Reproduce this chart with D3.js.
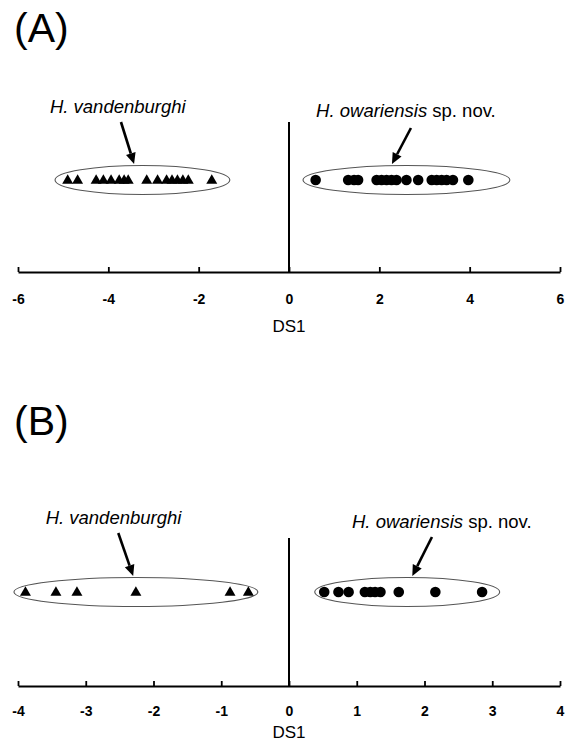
<!DOCTYPE html>
<html><head><meta charset="utf-8">
<script src="https://cdn.jsdelivr.net/npm/d3@7"></script>
<style>body{margin:0;background:#fff}svg{display:block}</style>
</head><body>
<svg id="c" width="571" height="742"></svg>
<script>
// Panel A (DS1 of discriminant analysis)
const ticksA = [-6, -4, -2, 0, 2, 4, 6];
const vandenA = [-4.90, -4.68, -4.27, -4.11, -3.94, -3.76, -3.65, -3.56, -3.15, -2.91, -2.71, -2.59, -2.47, -2.35, -2.23, -1.71];
const owariA = [0.59, 1.31, 1.44, 1.53, 1.94, 2.05, 2.16, 2.27, 2.38, 2.60, 2.86, 3.16, 3.27, 3.38, 3.49, 3.63, 3.97];
// Panel B
const ticksB = [-4, -3, -2, -1, 0, 1, 2, 3, 4];
const vandenB = [-3.89, -3.44, -3.13, -2.26, -0.87, -0.60];
const owariB = [0.52, 0.73, 0.88, 1.12, 1.20, 1.27, 1.35, 1.62, 2.16, 2.85];
const labelV = "H. vandenburghi";
const labelO = "H. owariensis";
const labelOsuffix = " sp. nov.";
const axisTitle = "DS1";

const svg = d3.select("#c");
const font = "Liberation Sans, Arial, sans-serif";

function panel(cfg) {
  const g = svg.append("g");
  const x = d3.scaleLinear().domain(cfg.domain).range([18, 560]);
  const yAxis = cfg.axisY;
  const yPts = cfg.ptsY;

  // panel letter
  g.append("text").attr("x", 14).attr("y", cfg.letterY)
    .attr("font-family", font).attr("font-size", 41).text(cfg.letter);

  // axis
  const axis = d3.axisBottom(x).tickValues(cfg.ticks).tickSize(0).tickPadding(cfg.tickPad).tickFormat(d3.format("d"));
  const ag = g.append("g").attr("transform", `translate(0,${yAxis})`).call(axis);
  ag.select(".domain").attr("stroke", "#000").attr("stroke-width", 2.2);
  ag.selectAll(".tick line").attr("y2", -5).attr("stroke", "#000").attr("stroke-width", 1.8);
  ag.selectAll(".tick text").attr("font-family", font).attr("font-size", 14)
    .attr("font-weight", "bold").attr("fill", "#000")
    .text(d => d < 0 ? "-" + Math.abs(d) : d);
  g.append("text").attr("x", x(0)).attr("y", cfg.titleY).attr("text-anchor", "middle")
    .attr("font-family", font).attr("font-size", 17).text(axisTitle);

  // zero line
  g.append("line").attr("x1", x(0)).attr("x2", x(0)).attr("y1", cfg.zeroTop).attr("y2", yAxis)
    .attr("stroke", "#000").attr("stroke-width", 2);

  // ellipses
  cfg.ellipses.forEach(e => {
    g.append("ellipse").attr("cx", (x(e[0]) + x(e[1])) / 2).attr("cy", yPts)
      .attr("rx", (x(e[1]) - x(e[0])) / 2).attr("ry", 14.5)
      .attr("fill", "none").attr("stroke", "#555").attr("stroke-width", 1.1);
  });

  // triangles
  const tri = d3.symbol().type(d3.symbolTriangle).size(52);
  g.selectAll(".tri").data(cfg.v).join("path")
    .attr("transform", d => `translate(${x(d)},${yPts + 0.5})`).attr("d", tri).attr("fill", "#000");
  // circles
  g.selectAll(".cir").data(cfg.o).join("circle")
    .attr("cx", d => x(d)).attr("cy", yPts).attr("r", 5.3).attr("fill", "#000");

  // labels
  g.append("text").attr("x", x(cfg.vText)).attr("y", cfg.vTextY).attr("text-anchor", "middle")
    .attr("font-family", font).attr("font-size", 18.5).attr("font-style", "italic").text(labelV);
  const t = g.append("text").attr("x", x(cfg.oText)).attr("y", cfg.oTextY)
    .attr("font-family", font).attr("font-size", 18.5);
  t.append("tspan").attr("font-style", "italic").text(labelO);
  t.append("tspan").text(labelOsuffix);

  // arrows
  cfg.arrows.forEach(a => {
    const x1 = x(a[0]), y1 = a[1], x2 = x(a[2]), y2 = a[3];
    const ang = Math.atan2(y2 - y1, x2 - x1);
    const L = 11, W = 5;
    const bx = x2 - L * Math.cos(ang), by = y2 - L * Math.sin(ang);
    g.append("line").attr("x1", x1).attr("y1", y1).attr("x2", bx).attr("y2", by)
      .attr("stroke", "#000").attr("stroke-width", 2.6);
    const px = -Math.sin(ang) * W, py = Math.cos(ang) * W;
    g.append("path").attr("d", `M${x2},${y2}L${bx + px},${by + py}L${bx - px},${by - py}Z`).attr("fill", "#000");
  });
}

panel({
  letter: "(A)", letterY: 42, domain: [-6, 6], ticks: ticksA, axisY: 272, ptsY: 180, tickPad: 22,
  titleY: 332, zeroTop: 122, v: vandenA, o: owariA,
  ellipses: [[-5.18, -1.31], [0.31, 4.89]],
  vText: -3.79, vTextY: 113, oText: 0.6, oTextY: 117,
  arrows: [[-3.72, 122, -3.43, 164], [2.70, 128, 2.28, 164]]
});
panel({
  letter: "(B)", letterY: 435, domain: [-4, 4], ticks: ticksB, axisY: 686, ptsY: 592, tickPad: 20,
  titleY: 738, zeroTop: 538, v: vandenB, o: owariB,
  ellipses: [[-4.06, -0.46], [0.38, 3.11]],
  vText: -2.59, vTextY: 524, oText: 0.93, oTextY: 528,
  arrows: [[-2.52, 533, -2.30, 576], [2.11, 537, 1.82, 576]]
});
</script>
</body></html>
